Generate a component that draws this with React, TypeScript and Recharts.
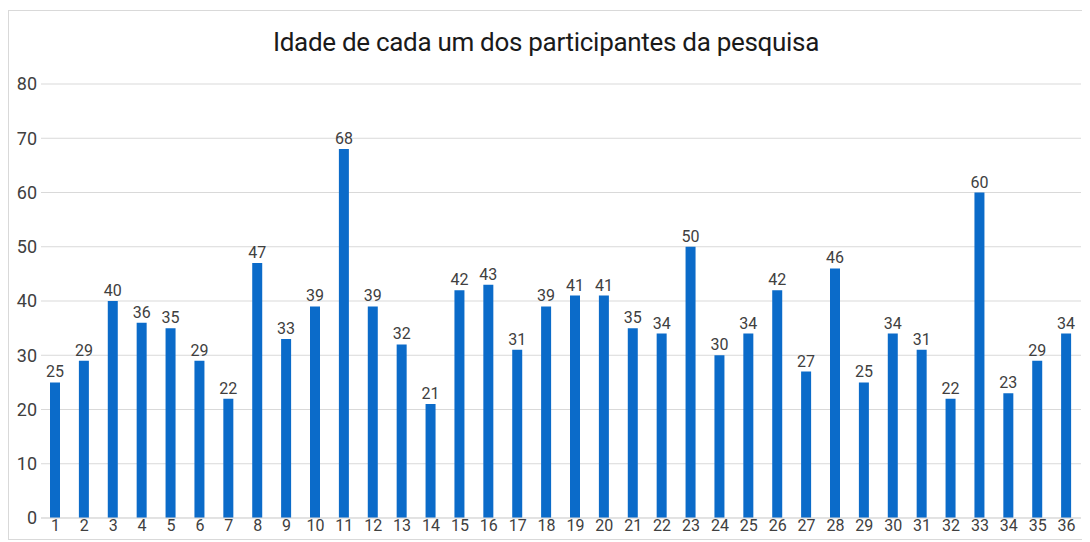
import React from "react";
import { BarChart, Bar, XAxis, YAxis, CartesianGrid, LabelList } from "recharts";

const participants = Array.from({ length: 36 }, (_, i) => String(i + 1));
const ages = [
  25, 29, 40, 36, 35, 29, 22, 47, 33, 39, 68, 39, 32, 21, 42, 43, 31, 39, 41, 41,
  35, 34, 50, 30, 34, 42, 27, 46, 25, 34, 31, 22, 60, 23, 29, 34,
];
const yTicks = [0, 10, 20, 30, 40, 50, 60, 70, 80];

const font = '"Roboto", sans-serif';

export default function App() {
  const data = participants.map((name, i) => ({ name, value: ages[i] }));

  return (
    <div
      style={{
        position: "relative",
        width: 1074,
        height: 528,
        marginTop: 2,
        border: "1px solid #d9d9d9",
        fontFamily: font,
      }}
    >
      <div
        style={{
          position: "absolute",
          top: 16,
          left: 0,
          width: "100%",
          textAlign: "center",
          fontSize: 26,
          letterSpacing: -0.3,
          color: "#1a1a1a",
        }}
      >
        Idade de cada um dos participantes da pesquisa
      </div>
      <BarChart
        width={1074}
        height={528}
        data={data}
        margin={{ top: 73, right: 2, left: 0, bottom: 0 }}
        style={{ position: "absolute", top: 0, left: 0 }}
      >
        <CartesianGrid vertical={false} stroke="#d9d9d9" />
        <XAxis
          dataKey="name"
          axisLine={{ stroke: "#d9d9d9" }}
          tickLine={false}
          tickSize={0}
          tickMargin={2}
          height={21}
          interval={0}
          tick={{ fill: "#404040", fontSize: 16, fontFamily: font }}
        />
        <YAxis
          domain={[0, 80]}
          ticks={yTicks}
          width={32}
          axisLine={false}
          tickLine={false}
          tickSize={0}
          tickMargin={4}
          tick={{ fill: "#404040", fontSize: 18, fontFamily: font }}
        />
        <Bar dataKey="value" fill="#0b6bc9" barSize={10} isAnimationActive={false}>
          <LabelList
            dataKey="value"
            position="top"
            offset={5}
            fill="#404040"
            fontSize={16}
            fontFamily={font}
          />
        </Bar>
      </BarChart>
    </div>
  );
}
